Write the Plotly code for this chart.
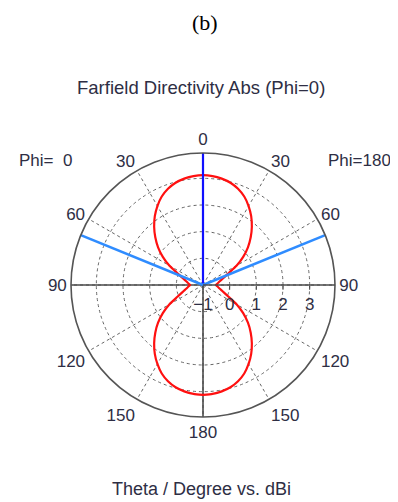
import plotly.graph_objects as go

# ---- data ----
theta_deg = [0, 5, 10, 15, 20, 25, 30, 35, 40, 45, 50, 55, 60, 65, 70, 75, 80, 85, 90,
             95, 100, 105, 110, 115, 120, 125, 130, 135, 140, 145, 150, 155, 160, 165, 170, 175, 180]
dir_phi0 = [3.12, 3.10, 3.05, 2.97, 2.84, 2.66, 2.42, 2.15, 1.85, 1.53, 1.20, 0.84, 0.46, 0.07,
            -0.16, -0.30, -0.40, -0.46, -0.52,
            -0.46, -0.40, -0.30, -0.16, 0.07, 0.46, 0.84, 1.20, 1.53, 1.85, 2.15, 2.42, 2.66,
            2.84, 2.97, 3.05, 3.10, 3.12]
dir_phi180 = [3.12, 3.10, 3.05, 2.97, 2.84, 2.66, 2.42, 2.15, 1.85, 1.53, 1.20, 0.84, 0.46, 0.07,
              -0.16, -0.30, -0.40, -0.46, -0.52,
              -0.46, -0.40, -0.30, -0.16, 0.07, 0.46, 0.84, 1.20, 1.53, 1.85, 2.15, 2.42, 2.66,
              2.84, 2.97, 3.05, 3.10, 3.12]
main_lobe_dir = 0.0
beam_edges = [67.8, -67.8]
r_min, r_max = -1.0, 3.95
radial_ticks = [-1, 0, 1, 2, 3]
angle_ticks = [0, 30, 60, 90, 120, 150, 180, 210, 240, 270, 300, 330]
angle_labels = ["0", "30", "60", "90", "120", "150", "180", "150", "120", "90", "60", "30"]

# Phi=0 on the left half (plotly angle = theta), Phi=180 on the right (angle = 360 - theta)
th_all = theta_deg + [360 - t for t in reversed(theta_deg)]
r_all = dir_phi0 + list(reversed(dir_phi180))

FONT = "Liberation Sans"
TXT = "#2e2e44"
# the page body has an 8px margin, so the figure is shifted by that amount
OFF = 8
W, H = 398 - OFF, 502 - OFF
cx, cy, R = 203 - OFF, 285 - OFF, 132


def px(x):
    return (x - OFF) / W


def py(y):
    return 1 - (y - OFF) / H


fig = go.Figure()

# solid axis lines (left horizontal, bottom vertical)
for ang in [90, 180]:
    fig.add_trace(go.Scatterpolar(r=[r_min, r_max], theta=[ang, ang], mode="lines",
                                  line=dict(color="#4a4a4a", width=1.6), hoverinfo="skip"))

fig.add_trace(go.Scatterpolar(r=r_all, theta=th_all, mode="lines",
                              line=dict(color="#ff1010", width=2.2, shape="spline", smoothing=0.5),
                              hoverinfo="skip"))

# main lobe direction
fig.add_trace(go.Scatterpolar(r=[r_min, r_max], theta=[main_lobe_dir, main_lobe_dir], mode="lines",
                              line=dict(color="#1010ff", width=2.2), hoverinfo="skip"))
# 3 dB beam edges
for b in beam_edges:
    fig.add_trace(go.Scatterpolar(r=[r_min, r_max], theta=[b, b], mode="lines",
                                  line=dict(color="#2f8cff", width=2.6), hoverinfo="skip"))

fig.update_layout(
    width=W, height=H,
    margin=dict(l=0, r=0, t=0, b=0),
    paper_bgcolor="white",
    showlegend=False,
    polar=dict(
        domain=dict(x=[(cx - R) / W, (cx + R) / W], y=[(H - cy - R) / H, (H - cy + R) / H]),
        bgcolor="white",
        angularaxis=dict(rotation=90, direction="counterclockwise",
                         tickmode="array", tickvals=angle_ticks, ticktext=angle_labels,
                         showline=True, linecolor="#555555", linewidth=1.6,
                         showgrid=True, gridcolor="#666666", griddash="dot", gridwidth=1.3,
                         ticks="", tickfont=dict(family=FONT, size=17, color=TXT)),
        radialaxis=dict(range=[r_min, r_max], tickmode="array", tickvals=radial_ticks,
                        angle=0, side="clockwise",
                        showline=True, linecolor="#4a4a4a", linewidth=1.6,
                        showgrid=True, gridcolor="#666666", griddash="dot", gridwidth=1.3,
                        ticks="outside", ticklen=4, tickcolor="#4a4a4a",
                        tickfont=dict(family=FONT, size=17, color=TXT)),
    ),
    annotations=[
        dict(text="(b)", x=px(205), y=py(22), xref="paper", yref="paper", showarrow=False,
             font=dict(family="Liberation Serif", size=22, color="black"), xanchor="center", yanchor="middle"),
        dict(text="Farfield Directivity Abs (Phi=0)", x=px(201), y=py(88), xref="paper", yref="paper",
             showarrow=False, font=dict(family=FONT, size=18.5, color=TXT), xanchor="center", yanchor="middle"),
        dict(text="Phi=\u00a0\u00a00", x=px(45), y=py(160), xref="paper", yref="paper",
             showarrow=False, font=dict(family=FONT, size=17, color=TXT), xanchor="center", yanchor="middle"),
        dict(text="Phi=180", x=px(359), y=py(160), xref="paper", yref="paper",
             showarrow=False, font=dict(family=FONT, size=17, color=TXT), xanchor="center", yanchor="middle"),
        dict(text="Theta / Degree vs. dBi", x=px(201), y=py(489), xref="paper", yref="paper",
             showarrow=False, font=dict(family=FONT, size=18, color=TXT), xanchor="center", yanchor="middle"),
    ],
)

fig.write_html("out.html")
